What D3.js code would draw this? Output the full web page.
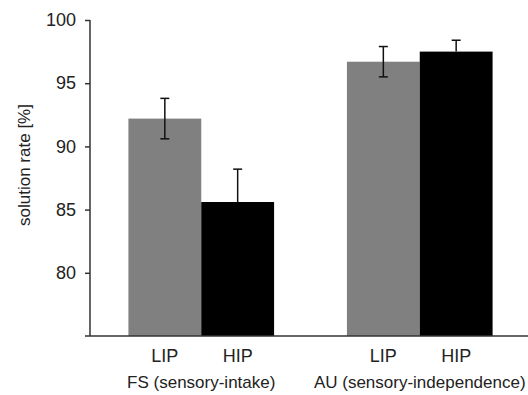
<!DOCTYPE html>
<html>
<head>
<meta charset="utf-8">
<script src="https://cdn.jsdelivr.net/npm/d3@7"></script>
<style>
  body { margin: 0; background: #fff; }
  text { font-family: Arial, "Liberation Sans", Helvetica, sans-serif; fill: #222; }
</style>
</head>
<body>
<div id="chart"></div>
<script>
// data
const groups = ['FS (sensory-intake)', 'AU (sensory-independence)'];
const conditions = ['LIP', 'HIP'];
const means = [[92.2, 85.6], [96.7, 97.5]];   // per group, per condition
const errors = [[1.6, 2.6], [1.2, 0.9]];
const yTicks = [80, 85, 90, 95, 100];
const barColors = ['#808080', '#000000'];

const width = 528, height = 395;
const margin = { top: 20, right: 0, bottom: 59, left: 90 };

const svg = d3.select('#chart').append('svg')
  .attr('width', width)
  .attr('height', height);

// scales
const x0 = d3.scaleBand().domain(groups).range([margin.left + 2, width + 1]).padding(0);
const x1 = d3.scaleBand().domain(conditions).range([0, x0.bandwidth()]).paddingInner(0).paddingOuter(0.5);
const y = d3.scaleLinear().domain([75, 100]).range([height - margin.bottom, margin.top]);

const rows = [];
groups.forEach((g, gi) => conditions.forEach((c, ci) => {
  rows.push({ group: g, cond: c, ci: ci, value: means[gi][ci], err: errors[gi][ci] });
}));

// bars
svg.append('g').selectAll('rect')
  .data(rows)
  .enter().append('rect')
  .attr('x', d => x0(d.group) + x1(d.cond))
  .attr('y', d => y(d.value))
  .attr('width', x1.bandwidth())
  .attr('height', d => y(75) - y(d.value))
  .style('fill', d => barColors[d.ci]);

// error bars (black bars hide the lower half)
const eb = svg.append('g').attr('class', 'errorbars')
  .selectAll('g').data(rows).enter().append('g')
  .attr('transform', d => `translate(${x0(d.group) + x1(d.cond) + x1.bandwidth() / 2},0)`);
eb.append('line')
  .attr('y1', d => y(d.value + d.err))
  .attr('y2', d => d.ci === 1 ? y(d.value) : y(d.value - d.err))
  .attr('stroke', '#111').attr('stroke-width', 1.5);
eb.append('line')
  .attr('x1', -4.5).attr('x2', 4.5)
  .attr('y1', d => y(d.value + d.err)).attr('y2', d => y(d.value + d.err))
  .attr('stroke', '#111').attr('stroke-width', 1.5);
eb.filter(d => d.ci === 0).append('line')
  .attr('x1', -4.5).attr('x2', 4.5)
  .attr('y1', d => y(d.value - d.err)).attr('y2', d => y(d.value - d.err))
  .attr('stroke', '#111').attr('stroke-width', 1.5);

// y axis
const yAxis = svg.append('g')
  .attr('transform', `translate(${margin.left},0)`)
  .call(d3.axisLeft(y).tickValues(yTicks).tickSize(5).tickSizeOuter(0).tickPadding(9));
yAxis.select('.domain').remove();
yAxis.selectAll('.tick line').attr('stroke', '#333').attr('stroke-width', 1.5);
yAxis.selectAll('.tick text').style('font-size', '18px').style('fill', '#222')
  .style('font-family', 'Arial, "Liberation Sans", sans-serif');
yAxis.append('line')
  .attr('y1', y(100)).attr('y2', y(75))
  .attr('stroke', '#333').attr('stroke-width', 1.5);

// x axis line
svg.append('line')
  .attr('x1', margin.left - 5).attr('x2', width)
  .attr('y1', y(75)).attr('y2', y(75))
  .attr('stroke', '#333').attr('stroke-width', 1.5);

// condition labels
svg.append('g').selectAll('text')
  .data(rows)
  .enter().append('text')
  .attr('x', d => x0(d.group) + x1(d.cond) + x1.bandwidth() / 2)
  .attr('y', y(75) + 26)
  .attr('text-anchor', 'middle')
  .style('font-size', '18px')
  .text(d => d.cond);

// group labels
svg.append('g').selectAll('text')
  .data(groups)
  .enter().append('text')
  .attr('x', d => x0(d) + x0.bandwidth() / 2)
  .attr('y', y(75) + 52)
  .attr('text-anchor', 'middle')
  .style('font-size', '17px')
  .text(d => d);

// y label
svg.append('text')
  .attr('transform', `translate(30,${(y(100) + y(75)) / 2 - 13}) rotate(-90)`)
  .attr('text-anchor', 'middle')
  .style('font-size', '17px')
  .text('solution rate [%]');
</script>
</body>
</html>
